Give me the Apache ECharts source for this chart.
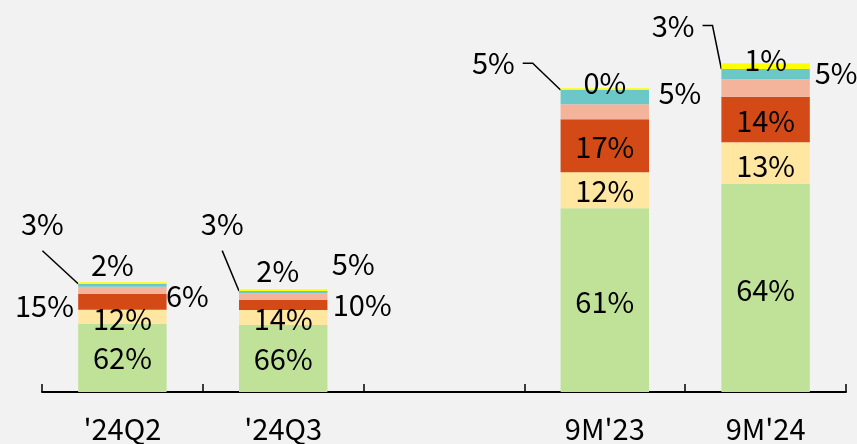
<!DOCTYPE html>
<html>
<head>
<meta charset="utf-8">
<script src="https://cdn.jsdelivr.net/npm/echarts@6/dist/echarts.min.js"></script>
<style>
  html, body { margin: 0; padding: 0; background: #f2f2f2; }
  #chart { width: 857px; height: 444px; }
</style>
</head>
<body>
<div id="chart"></div>
<script>
// categories (empty slot between the quarters and the 9M bars)
const categories = ["'24Q2", "'24Q3", '', "9M'23", "9M'24"]

// segment amounts, bottom to top
const green = [68.3, 67.0, null, 183.7, 208.0]
const cream = [14.0, 15.0, null, 36.0, 41.7]
const orange = [15.7, 10.0, null, 53.0, 45.6]
const salmon = [7.3, 6.7, null, 15.0, 17.4]
const teal = [3.0, 2.3, null, 14.3, 10.3]
const yellow = [1.5, 1.7, null, 1.7, 5.7]

// share labels shown on each segment
const greenPct = ['62%', '66%', '', '61%', '64%']
const creamPct = ['12%', '14%', '', '12%', '13%']
const orangePct = ['15%', '10%', '', '17%', '14%']
const salmonPct = ['6%', '5%', '', '5%', '5%']
const tealPct = ['3%', '3%', '', '5%', '3%']
const yellowPct = ['2%', '2%', '', '0%', '1%']

// label nudges [dx, dy] from the segment centre
const labelOffsets = {
  green: [[0, 0], [0, 0], null, [0, 2], [0, 2]],
  cream: [[0, 2], [0, 1.5], null, [0, 1], [0, 3]],
  orange: [[-78, 4], [79, 0], null, [0, 1], [0, 1.5]],
  salmon: [[65, 6], [70, -33], null, [75, -19], [70.5, -15]],
  teal: [[-80, -61], [-61, -68], null, [-111.5, -34], [-92.5, -48.6]],
  yellow: [[-10, -18], [-5.5, -19], null, [0, -6], [0, -6]]
}
// leader lines: horizontal stub length and gap kept round the label
const leaderStub = [0, 0, 0, 10, 10]
const leaderGap = [[12, 4], [12, 4], null, [2, 8], [2, 8]]

const FONT = '"Noto Sans CJK TC", "Noto Sans", sans-serif'

const layers = [
  { key: 'green', values: green, labels: greenPct, color: '#c0e298' },
  { key: 'cream', values: cream, labels: creamPct, color: '#ffe6a1' },
  { key: 'orange', values: orange, labels: orangePct, color: '#d44a17' },
  { key: 'salmon', values: salmon, labels: salmonPct, color: '#f4b39b' },
  { key: 'teal', values: teal, labels: tealPct, color: '#6cc8c8', leader: true },
  { key: 'yellow', values: yellow, labels: yellowPct, color: '#ffff00' }
]

function buildSeries(layer) {
  return {
    name: layer.key,
    type: 'bar',
    stack: 'total',
    barWidth: '55%',
    itemStyle: { color: layer.color },
    data: layer.values.map((v, i) => {
      if (v == null) return '-'
      const item = {
        value: v,
        label: {
          show: true,
          position: 'inside',
          align: 'center',
          verticalAlign: 'middle',
          offset: labelOffsets[layer.key][i],
          formatter: layer.labels[i],
          color: '#000',
          fontSize: 29,
          fontFamily: FONT
        }
      }
      if (layer.leader) {
        // transparent box so the padding counts as the label's extent
        item.label.padding = leaderGap[i]
        item.label.backgroundColor = 'rgba(0,0,0,0)'
        item.labelLine = {
          show: true,
          length2: leaderStub[i],
          lineStyle: { color: '#000', width: 1.5 }
        }
      }
      return item
    })
  }
}

const chart = echarts.init(document.getElementById('chart'))
chart.setOption({
  backgroundColor: '#f2f2f2',
  animation: false,
  grid: { left: 42, right: 11, top: 42, bottom: 52 },
  xAxis: {
    type: 'category',
    data: categories,
    axisLine: { show: true, lineStyle: { color: '#000', width: 2 } },
    axisTick: { show: true, inside: true, length: 8, lineStyle: { color: '#000', width: 1.5 } },
    axisLabel: { color: '#000', fontSize: 29, fontFamily: FONT, margin: 22, interval: 0 }
  },
  yAxis: { type: 'value', min: 0, max: 350, show: false },
  series: layers.map(buildSeries)
})
</script>
</body>
</html>
